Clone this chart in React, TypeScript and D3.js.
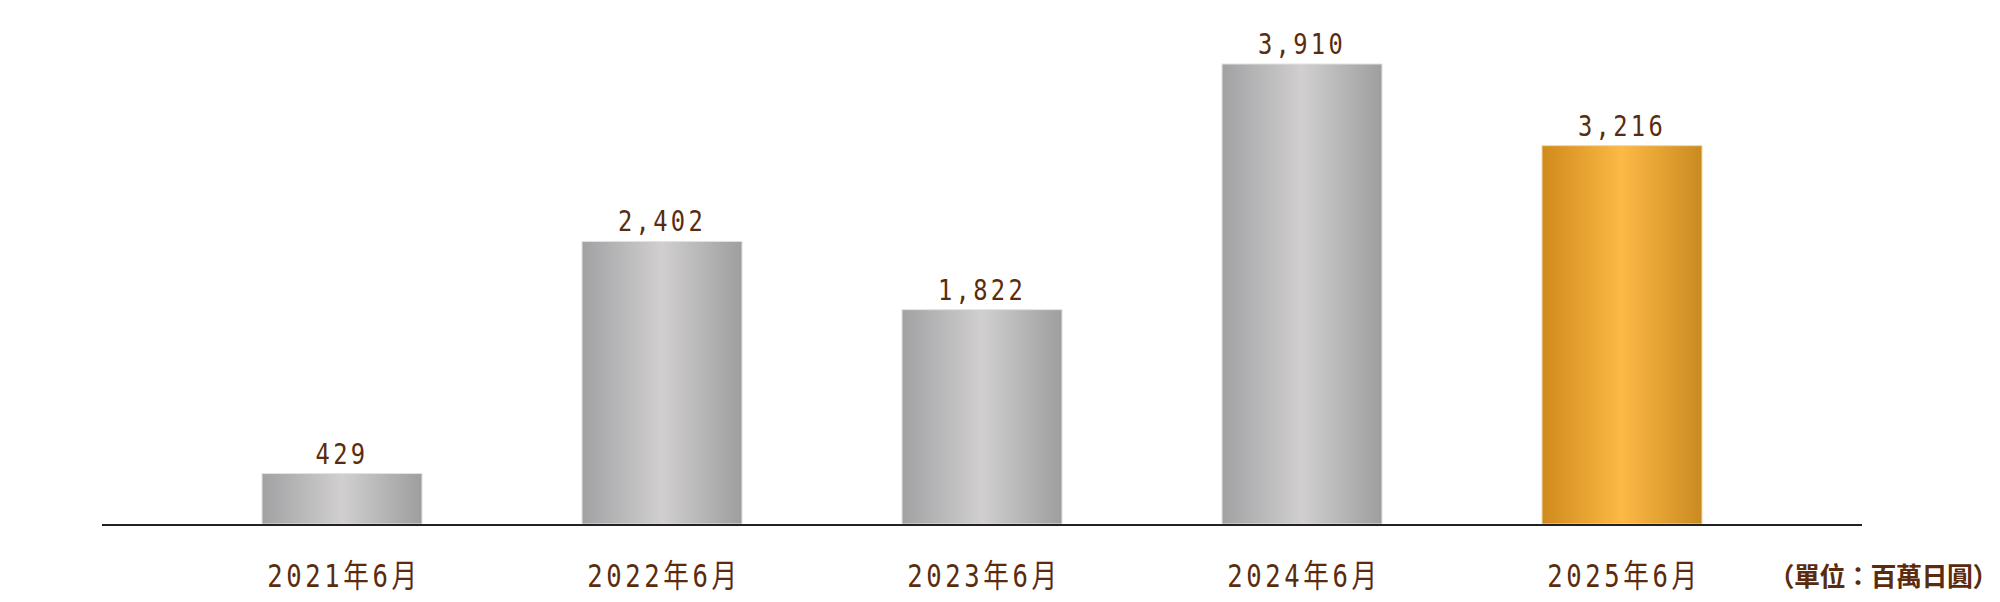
import React from "react";
import * as d3 from "d3";

const categories = ["2021年6月", "2022年6月", "2023年6月", "2024年6月", "2025年6月"];
const values = [429, 2402, 1822, 3910, 3216];
const highlight = [false, false, false, false, true];
const unitLabel = "（單位：百萬日圓）";

const W = 2000;
const H = 602;
const TEXT = "#5a2c0d";
const fmt = d3.format(",");

export default function App() {
  const x = d3.scaleBand<string>().domain(categories).range([102, 1862]).paddingInner(0.5).paddingOuter(0.5);
  const y = d3.scaleLinear().domain([0, 4250]).range([524, 24]);
  return (
    <svg width={W} height={H} style={{ position: "absolute", left: 0, top: 0 }}>
      <defs>
        <linearGradient id="gGray" x1="0" x2="1" y1="0" y2="0">
          <stop offset="0" stopColor="#a1a1a3" />
          <stop offset="0.5" stopColor="#d1cfd0" />
          <stop offset="1" stopColor="#9e9e9e" />
        </linearGradient>
        <linearGradient id="gGold" x1="0" x2="1" y1="0" y2="0">
          <stop offset="0" stopColor="#cf8a1b" />
          <stop offset="0.5" stopColor="#fdb945" />
          <stop offset="1" stopColor="#c98a20" />
        </linearGradient>
      </defs>
      <rect x={0} y={0} width={W} height={H} fill="#fff" />
      {categories.map((c, i) => {
        const bx = x(c)!;
        const bw = x.bandwidth();
        const top = y(values[i]);
        const cx = bx + bw / 2;
        return (
          <g key={c}>
            <rect
              x={bx}
              y={top}
              width={bw}
              height={y(0) - top}
              fill={highlight[i] ? "url(#gGold)" : "url(#gGray)"}
              stroke={highlight[i] ? "#f3d9a6" : "#e2e2e2"}
              strokeWidth={1}
            />
            <text
              transform={`translate(${cx},${top - 10}) scale(0.82,1)`}
              textAnchor="middle"
              fontFamily="'DejaVu Sans Mono', monospace"
              fontSize={29}
              letterSpacing={4}
              fill={TEXT}
            >
              {fmt(values[i])}
            </text>
            <text
              transform={`translate(${cx + 2},587) scale(0.8,1)`}
              textAnchor="middle"
              fontFamily="'DejaVu Sans Mono', 'Noto Sans CJK JP', monospace"
              fontSize={32}
              letterSpacing={4.5}
              fill={TEXT}
            >
              {c}
            </text>
          </g>
        );
      })}
      <line x1={102} x2={1862} y1={y(0) + 1} y2={y(0) + 1} stroke="#222" strokeWidth={2} />
      <text
        x={1998}
        y={586}
        textAnchor="end"
        fontFamily="'Noto Sans CJK TC', sans-serif"
        fontSize={26}
        fontWeight={700}
        letterSpacing={-0.5}
        fill={TEXT}
      >
        {unitLabel}
      </text>
    </svg>
  );
}
